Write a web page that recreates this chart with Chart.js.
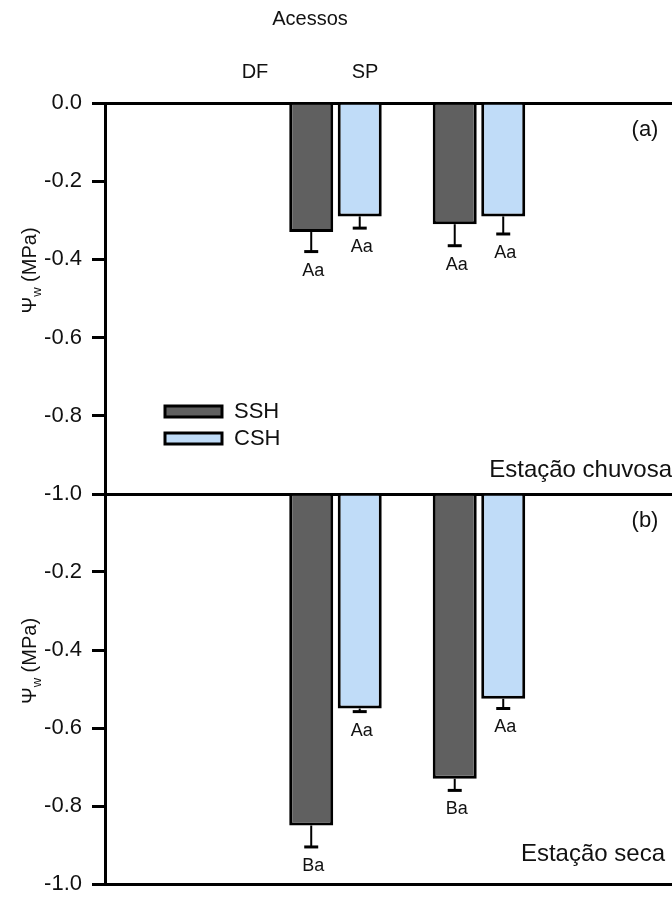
<!DOCTYPE html>
<html lang="pt">
<head>
<meta charset="utf-8">
<title>Potencial hídrico foliar</title>
<script src="https://cdn.jsdelivr.net/npm/chart.js@4.4.1/dist/chart.umd.min.js"></script>
<style>
  html, body { margin: 0; padding: 0; background: #fff; overflow: hidden; }
  #wrap { position: relative; width: 672px; height: 899px; overflow: hidden; }
  canvas { position: absolute; left: 0; }
  #chuvosaChart { top: 0; }
  #secaChart { top: 464px; }
</style>
</head>
<body>
<div id="wrap">
  <canvas id="chuvosaChart" width="672" height="520"></canvas>
  <canvas id="secaChart" width="672" height="446"></canvas>
</div>
<script>
const acessos = ["DF", "SP"];
const acessoPos = [1, 2];
const series = ["SSH", "CSH"];

// estação chuvosa
const chuvosaSSH = [-0.33, -0.31];
const chuvosaCSH = [-0.29, -0.29];
const chuvosaSSHErr = [0.05, 0.055];
const chuvosaCSHErr = [0.03, 0.045];
const chuvosaSSHLetras = ["Aa", "Aa"];
const chuvosaCSHLetras = ["Aa", "Aa"];

// estação seca
const secaSSH = [-0.85, -0.73];
const secaCSH = [-0.55, -0.525];
const secaSSHErr = [0.055, 0.03];
const secaCSHErr = [0.008, 0.025];
const secaSSHLetras = ["Ba", "Ba"];
const secaCSHLetras = ["Aa", "Aa"];

const yTicks = [0, -0.2, -0.4, -0.6, -0.8, -1.0];

const FONT = "'Liberation Sans', Arial, sans-serif";
const COLORS = { SSH: "#606060", CSH: "#c0dcf8" };
const LINE = 3;

function makeDataset(label, values, errors, letters) {
  return {
    label,
    data: values.map((v, i) => ({ x: acessoPos[i], y: v })),
    errors,
    letters,
    backgroundColor: COLORS[label],
    borderColor: "#000",
    borderWidth: LINE,
    stack: label,
    categoryPercentage: 0.676,
    barPercentage: 0.907,
  };
}

// error bars (downward only) with the significance letters under them
const errorBarPlugin = {
  id: "errorBars",
  afterDatasetsDraw(chart) {
    const { ctx } = chart;
    const yScale = chart.scales.y;
    ctx.save();
    chart.data.datasets.forEach((ds, i) => {
      const meta = chart.getDatasetMeta(i);
      meta.data.forEach((bar, j) => {
        const end = yScale.getPixelForValue(ds.data[j].y - ds.errors[j]);
        ctx.strokeStyle = "#000";
        ctx.lineWidth = 2;
        ctx.beginPath();
        ctx.moveTo(bar.x, bar.y);
        ctx.lineTo(bar.x, end);
        ctx.stroke();
        ctx.lineWidth = 3;
        ctx.beginPath();
        ctx.moveTo(bar.x - 7, end);
        ctx.lineTo(bar.x + 7, end);
        ctx.stroke();

        ctx.fillStyle = "#111";
        ctx.font = `18px ${FONT}`;
        ctx.textAlign = "center";
        ctx.textBaseline = "top";
        ctx.fillText(ds.letters[j], bar.x + 2, end + 10);
      });
    });
    ctx.restore();
  },
};

function drawYTitle(ctx, x, y) {
  ctx.save();
  ctx.translate(x, y);
  ctx.rotate(-Math.PI / 2);
  ctx.fillStyle = "#111";
  ctx.textBaseline = "middle";
  ctx.textAlign = "left";
  const psi = "Ψ";
  const rest = " (MPa)";
  ctx.font = `20px ${FONT}`;
  const wPsi = ctx.measureText(psi).width;
  const wRest = ctx.measureText(rest).width;
  ctx.font = `13px ${FONT}`;
  const wSub = ctx.measureText("w").width;
  let cx = -(wPsi + wSub + wRest) / 2;
  ctx.font = `20px ${FONT}`;
  ctx.fillText(psi, cx, 0);
  cx += wPsi;
  ctx.font = `13px ${FONT}`;
  ctx.fillText("w", cx, 7);
  cx += wSub;
  ctx.font = `20px ${FONT}`;
  ctx.fillText(rest, cx, 0);
  ctx.restore();
}

// panel tag, season name and y title
const panelTextPlugin = {
  id: "panelText",
  afterDraw(chart, args, opts) {
    const { ctx, chartArea } = chart;
    ctx.save();
    ctx.fillStyle = "#111";
    ctx.font = `22px ${FONT}`;
    ctx.textAlign = "center";
    ctx.textBaseline = "middle";
    ctx.fillText(opts.tag, 645, chartArea.top + 27);

    ctx.font = `24px ${FONT}`;
    ctx.textAlign = "right";
    ctx.textBaseline = "alphabetic";
    ctx.fillText(opts.season, opts.seasonRight, chartArea.bottom - opts.seasonLift);
    ctx.restore();

    drawYTitle(ctx, 30, (chartArea.top + chartArea.bottom) / 2 - 28);
  },
};

// accession header and legend, only on the upper panel
const headerPlugin = {
  id: "header",
  afterDraw(chart, args, opts) {
    if (!opts.show) return;
    const { ctx } = chart;
    ctx.save();
    ctx.fillStyle = "#111";
    ctx.textAlign = "center";
    ctx.textBaseline = "middle";
    ctx.font = `20px ${FONT}`;
    ctx.fillText("Acessos", 310, 19);
    ctx.fillText(acessos[0], 255, 72);
    ctx.fillText(acessos[1], 365, 72);

    chart.data.datasets.forEach((ds, i) => {
      const top = 406 + i * 27;
      ctx.fillStyle = ds.backgroundColor;
      ctx.fillRect(165, top, 57, 11);
      ctx.strokeStyle = "#000";
      ctx.lineWidth = LINE;
      ctx.strokeRect(165, top, 57, 11);
      ctx.fillStyle = "#111";
      ctx.font = `22px ${FONT}`;
      ctx.textAlign = "left";
      ctx.fillText(ds.label, 234, top + 6);
    });
    ctx.restore();
  },
};

function isEdge(v) {
  return Math.abs(v) < 1e-9 || Math.abs(v + 1) < 1e-9;
}

function makeChart(id, datasets, opts) {
  return new Chart(document.getElementById(id), {
    type: "bar",
    data: { datasets },
    plugins: [errorBarPlugin, panelTextPlugin, headerPlugin],
    options: {
      responsive: false,
      animation: false,
      layout: { padding: { top: opts.padTop, bottom: opts.padBottom, left: 0, right: 0 } },
      plugins: {
        legend: { display: false },
        tooltip: { enabled: false },
        panelText: opts.panel,
        header: { show: opts.header },
      },
      scales: {
        x: {
          type: "linear",
          display: false,
          offset: false,
          min: -0.606,
          max: 3.345,
          afterBuildTicks: (axis) => {
            axis.ticks = acessoPos.map((v) => ({ value: v }));
          },
        },
        y: {
          min: -1,
          max: 0,
          afterBuildTicks: (axis) => {
            axis.ticks = yTicks.map((v) => ({ value: v }));
          },
          afterFit: (axis) => {
            axis.width = 105;
          },
          ticks: {
            padding: 10,
            color: "#111",
            font: { family: FONT, size: 22 },
            callback: (v) => (opts.hideZero && Math.abs(v) < 1e-9 ? "" : v.toFixed(1)),
          },
          grid: {
            color: (c) => (c.tick && isEdge(c.tick.value) ? "#000" : "rgba(0,0,0,0)"),
            lineWidth: LINE,
            tickColor: "#000",
            tickWidth: LINE,
            tickLength: 13,
          },
          border: { display: true, color: "#000", width: LINE },
        },
      },
    },
  });
}

makeChart(
  "chuvosaChart",
  [
    makeDataset(series[0], chuvosaSSH, chuvosaSSHErr, chuvosaSSHLetras),
    makeDataset(series[1], chuvosaCSH, chuvosaCSHErr, chuvosaCSHLetras),
  ],
  {
    padTop: 103,
    padBottom: 26,
    header: true,
    hideZero: false,
    panel: { tag: "(a)", season: "Estação chuvosa", seasonRight: 672, seasonLift: 17 },
  }
);

makeChart(
  "secaChart",
  [
    makeDataset(series[0], secaSSH, secaSSHErr, secaSSHLetras),
    makeDataset(series[1], secaCSH, secaCSHErr, secaCSHLetras),
  ],
  {
    padTop: 30,
    padBottom: 26,
    header: false,
    hideZero: true,
    panel: { tag: "(b)", season: "Estação seca", seasonRight: 665, seasonLift: 23 },
  }
);
</script>
</body>
</html>
